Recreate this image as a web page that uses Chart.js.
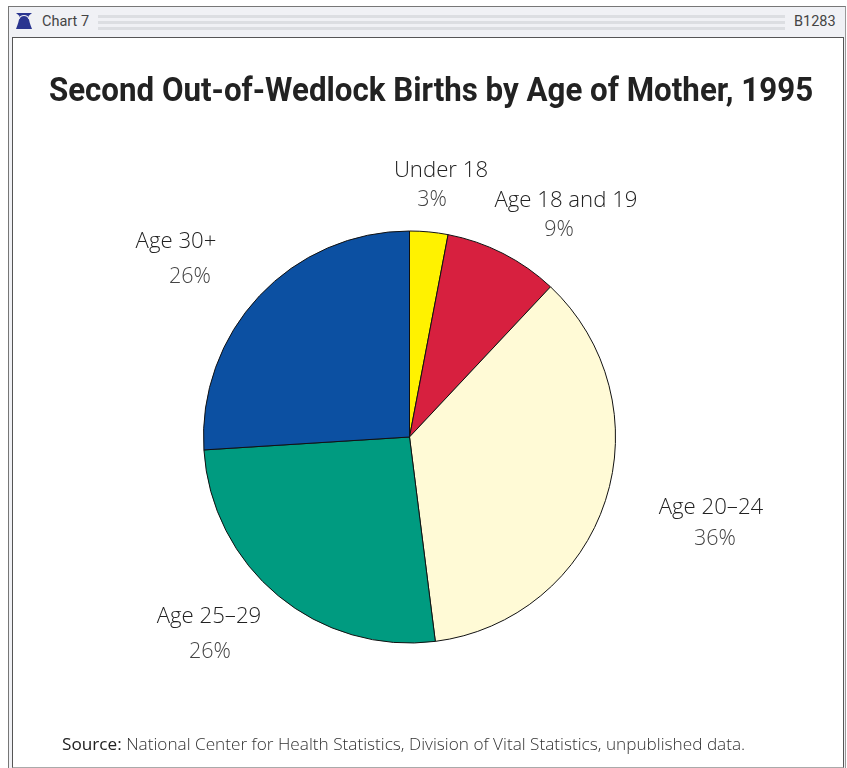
<!DOCTYPE html>
<html lang="en">
<head>
  <meta charset="UTF-8">
  <title>Chart 7</title>
  <script src="https://cdn.jsdelivr.net/npm/chart.js"></script>
  <style>
    html, body { margin: 0; padding: 0; background: #fff; overflow: hidden; }
    body { width: 847px; height: 768px; position: relative; font-family: "Open Sans", sans-serif; color: #333; }
    .outer { position: absolute; left: 8px; top: 6px; width: 836px; height: 770px; border: 1px solid #777; border-right-color: #999; background: #f0f1f5; }
    .inner { position: absolute; left: 12px; top: 37px; width: 830px; height: 729px; border: 1px solid #555; border-bottom-color: #aaa; background: #fff; }
    .bell { position: absolute; left: 15px; top: 13px; }
    .head { position: absolute; top: 13px; font-size: 14.5px; font-family: Roboto, sans-serif; color: #444; }
    .stripes { position: absolute; left: 98px; top: 15px; width: 687px; height: 15px;
      background: repeating-linear-gradient(to bottom, #dcdee2 0, #dcdee2 3px, #f0f1f5 3px, #f0f1f5 6px); }
    canvas { position: absolute; left: 0; top: 0; }
    h1 { position: absolute; left: 431px; top: 69px; margin: 0; transform: translateX(-50%) scaleX(.92); font: 700 34px Roboto, sans-serif; color: #222; white-space: nowrap; }
    .lbl, .pct { position: absolute; transform: translateX(-50%); font: 300 22.2px/30px "Open Sans", sans-serif; color: #222; white-space: nowrap; }
    .pct { color: #444; font-size: 21.500px; }
    .source { position: absolute; left: 62px; top: 732px; font: 300 17.2px "Open Sans", sans-serif; color: #333; white-space: nowrap; }
    .source b { font-weight: 400; color: #222; }
  </style>
</head>
<body>
  <div class="outer"></div>
  <svg class="bell" width="18" height="16" viewBox="0 0 18 16"><path d="M1 0H17L13.5 3C14 8 15 11 17 16H1C3 11 4 8 4.500 3Z" fill="#2a3590"/><path d="M4 6C5 3 7 2.500 9 2.500C11 2.500 13 3 14 6" stroke="#f0f1f5" stroke-width="1.200" fill="none"/></svg>
  <div class="head" style="left:42px">Chart 7</div>
  <div class="stripes"></div>
  <div class="head" style="left:794px">B1283</div>
  <div class="inner"></div>
  <canvas id="pie" width="847" height="768"></canvas>
  <h1>Second Out-of-Wedlock Births by Age of Mother, 1995</h1>
  <div id="labels"></div>
  <div class="source"><b>Source:</b> National Center for Health Statistics, Division of Vital Statistics, unpublished data.</div>

  <script>
    const categories = ['Under 18', 'Age 18 and 19', 'Age 20–24', 'Age 25–29', 'Age 30+'];
    const shares = [3, 9, 36, 26, 26];
    const sliceColors = ['#fff200', '#d7203f', '#fffad6', '#009b80', '#0c50a2'];
    // label centres, same order as categories
    const nameX = [441, 566, 711, 209, 176];
    const nameY = [154, 184, 491, 600, 225];
    const pctX = [432, 559, 715, 210, 190];
    const pctY = [183, 213, 522, 635, 260];

    const holder = document.getElementById('labels');
    categories.forEach((name, i) => {
      const a = document.createElement('div');
      a.className = 'lbl';
      a.style.left = nameX[i] + 'px';
      a.style.top = nameY[i] + 'px';
      a.textContent = name;
      holder.appendChild(a);
      const b = document.createElement('div');
      b.className = 'pct';
      b.style.left = pctX[i] + 'px';
      b.style.top = pctY[i] + 'px';
      b.textContent = shares[i] + '%';
      holder.appendChild(b);
    });

    new Chart(document.getElementById('pie').getContext('2d'), {
      type: 'pie',
      data: {
        labels: categories,
        datasets: [{
          data: shares,
          backgroundColor: sliceColors,
          borderColor: '#111',
          borderWidth: 1
        }]
      },
      options: {
        responsive: false,
        animation: false,
        layout: { padding: { left: 203, right: 231, top: 230, bottom: 124 } },
        plugins: { legend: { display: false }, tooltip: { enabled: false } }
      }
    });
  </script>
</body>
</html>
